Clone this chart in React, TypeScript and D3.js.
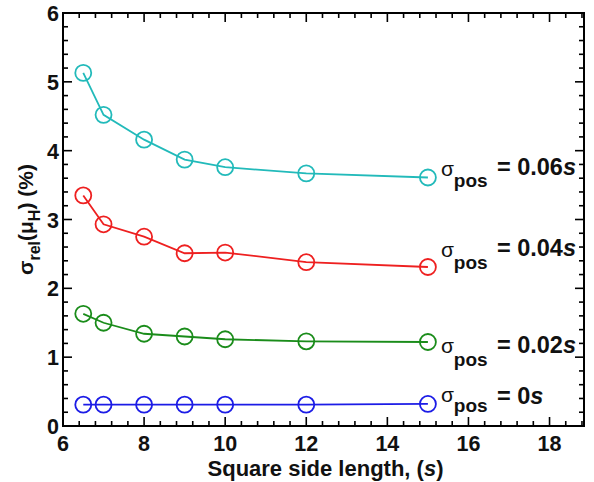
import React from 'react';
import * as d3 from 'd3';

const sideLengths = [6.5, 7, 8, 9, 10, 12, 15];
const sigma006 = [5.13, 4.52, 4.16, 3.87, 3.76, 3.67, 3.61];
const sigma004 = [3.35, 2.93, 2.75, 2.51, 2.52, 2.38, 2.31];
const sigma002 = [1.63, 1.5, 1.34, 1.3, 1.26, 1.23, 1.22];
const sigma000 = [0.31, 0.31, 0.31, 0.31, 0.31, 0.31, 0.32];
const seriesLabels = ['0.06', '0.04', '0.02', '0'];
const seriesColors = ['#22baba', '#ee2020', '#1a8c1a', '#1c1ce6'];
const xTicks = [6, 8, 10, 12, 14, 16, 18];
const yTicks = [0, 1, 2, 3, 4, 5, 6];

const W = 594;
const H = 482;
const m = { left: 63, right: 10, top: 13, bottom: 56 };

const App = () => {
  const x = d3.scaleLinear().domain([6, 18.85]).range([m.left, W - m.right]);
  const y = d3.scaleLinear().domain([0, 6]).range([H - m.bottom, m.top]);
  const x0 = x.range()[0], x1 = x.range()[1];
  const y0 = y.range()[0], y1 = y.range()[1];

  const series = [sigma006, sigma004, sigma002, sigma000];
  const line = d3
    .line<number>()
    .x((_, i) => x(sideLengths[i]))
    .y((d) => y(d));

  const xMinor = d3.range(6, 18.85, 0.4).filter((v) => Math.abs(v / 2 - Math.round(v / 2)) > 0.01);
  const yMinor = d3.range(0, 6, 0.2).filter((v) => Math.abs(v - Math.round(v)) > 0.01);

  // label offsets (px) from the last point of each curve
  const labelDy = [-2, -10, 11, -2];
  const subDy = [11, 12, 13, 10];
  const eqDy = [-1, -1, 0, 2];

  const font = 'Liberation Sans, Arial, sans-serif';

  return (
    <svg width={W} height={H} style={{ position: 'absolute', left: 0, top: 0 }} fontFamily={font}>
      <rect width={W} height={H} fill="#fff" />
      {series.map((s, k) => (
        <g key={k} stroke={seriesColors[k]} fill="none" strokeWidth={1.8}>
          <path d={line(s) || ''} />
          {s.map((v, i) => (
            <circle key={i} cx={x(sideLengths[i])} cy={y(v)} r={8} />
          ))}
        </g>
      ))}

      {/* frame and ticks */}
      <rect x={x0} y={y1} width={x1 - x0} height={y0 - y1} fill="none" stroke="#000" strokeWidth={2} />
      <g stroke="#000" strokeWidth={1.6}>
        {xTicks.map((t) => (
          <g key={t}>
            <line x1={x(t)} x2={x(t)} y1={y0} y2={y0 - 9} />
            <line x1={x(t)} x2={x(t)} y1={y1} y2={y1 + 9} />
          </g>
        ))}
        {xMinor.map((t) => (
          <g key={t}>
            <line x1={x(t)} x2={x(t)} y1={y0} y2={y0 - 5} />
            <line x1={x(t)} x2={x(t)} y1={y1} y2={y1 + 5} />
          </g>
        ))}
        {yTicks.map((t) => (
          <g key={t}>
            <line x1={x0} x2={x0 + 9} y1={y(t)} y2={y(t)} />
            <line x1={x1} x2={x1 - 9} y1={y(t)} y2={y(t)} />
          </g>
        ))}
        {yMinor.map((t) => (
          <g key={t}>
            <line x1={x0} x2={x0 + 5} y1={y(t)} y2={y(t)} />
            <line x1={x1} x2={x1 - 5} y1={y(t)} y2={y(t)} />
          </g>
        ))}
      </g>

      {/* tick labels */}
      <g fontSize={21.5} fontWeight="bold" fill="#111">
        {xTicks.map((t) => (
          <text key={t} x={x(t)} y={y0 + 25} textAnchor="middle">{t}</text>
        ))}
        {yTicks.map((t) => (
          <text key={t} x={x0 - 4} y={y(t) + 8} textAnchor="end">{t}</text>
        ))}
      </g>

      {/* axis titles */}
      <text x={(x0 + x1) / 2 + 2} y={H - 6} textAnchor="middle" fontSize={22} fontWeight="bold" fill="#111">
        Square side length, (<tspan fontStyle="italic">s</tspan>)
      </text>
      <text
        transform={`translate(33,${(y0 + y1) / 2}) rotate(-90)`}
        textAnchor="middle"
        fontSize={21}
        fontWeight="bold"
        fill="#111"
      >
        σ<tspan fontSize={16} dy={7}>rel</tspan>
        <tspan dy={-7}>(μ</tspan>
        <tspan fontSize={16} dy={7}>H</tspan>
        <tspan dy={-7}>) (%)</tspan>
      </text>

      {/* series annotations */}
      {series.map((s, k) => {
        const lx = x(15) + 13;
        const ly = y(s[s.length - 1]) + labelDy[k];
        return (
          <text key={k} x={lx} y={ly} fill="#111" fontSize={21}>
            σ
            <tspan fontSize={19} fontWeight="bold" dy={subDy[k]}>pos</tspan>
            <tspan fontSize={23.5} fontWeight="bold" x={lx + 56} dy={eqDy[k] - subDy[k]}>= {seriesLabels[k]}</tspan>
            <tspan fontSize={23.5} fontWeight="bold" fontStyle="italic">s</tspan>
          </text>
        );
      })}
    </svg>
  );
};

export default App;
